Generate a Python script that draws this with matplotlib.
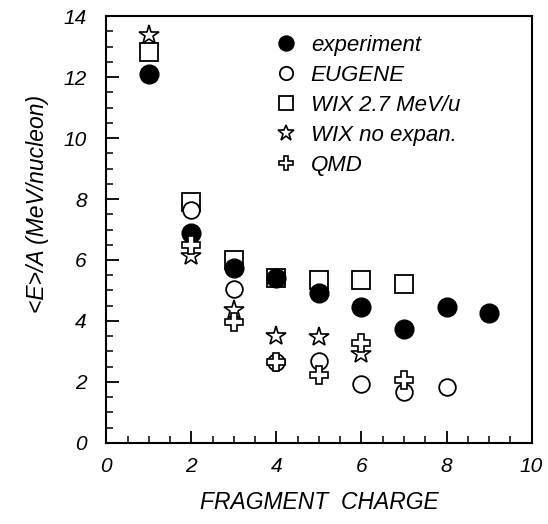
import matplotlib
matplotlib.use('Agg')
import matplotlib.pyplot as plt
from matplotlib.ticker import MultipleLocator

matplotlib.rcParams['font.family'] = ['Liberation Sans', 'DejaVu Sans']
matplotlib.rcParams['font.style'] = 'italic'

z_exp = [1, 2, 3, 4, 5, 6, 7, 8, 9]
e_exp = [12.1, 6.9, 5.75, 5.4, 4.9, 4.45, 3.72, 4.45, 4.27]

z_eug = [2, 3, 4, 5, 6, 7, 8]
e_eug = [7.63, 5.06, 2.66, 2.68, 1.92, 1.67, 1.84]

z_wix = [1, 2, 3, 4, 5, 6, 7]
e_wix = [12.82, 7.9, 5.99, 5.4, 5.33, 5.33, 5.2]

z_wixn = [1, 2, 3, 4, 5, 6]
e_wixn = [13.37, 6.12, 4.35, 3.5, 3.46, 2.93]

z_qmd = [2, 3, 4, 5, 6, 7]
e_qmd = [6.48, 3.97, 2.66, 2.22, 3.26, 2.05]

fig = plt.figure(figsize=(5.48, 5.24), dpi=100)
ax = fig.add_axes([0.194, 0.155, 0.776, 0.814])

ax.plot(z_wix, e_wix, 's', ms=13, mfc='white', mec='black', mew=1.3,
        label='WIX 2.7 MeV/u', zorder=3)
ax.plot(z_exp, e_exp, 'o', ms=13.5, mfc='black', mec='black',
        label='experiment', zorder=4)
ax.plot(z_eug, e_eug, 'o', ms=12, mfc='white', mec='black', mew=1.3,
        label='EUGENE', zorder=5)
ax.plot(z_wixn, e_wixn, '*', ms=15, mfc='white', mec='black', mew=1.2,
        label='WIX no expan.', zorder=6)
ax.plot(z_qmd, e_qmd, 'P', ms=13, mfc='white', mec='black', mew=1.2,
        label='QMD', zorder=6)

ax.set_xlim(0, 10)
ax.set_ylim(0, 14)
ax.xaxis.set_major_locator(MultipleLocator(2))
ax.xaxis.set_minor_locator(MultipleLocator(0.5))
ax.yaxis.set_major_locator(MultipleLocator(2))
ax.yaxis.set_minor_locator(MultipleLocator(0.5))
ax.tick_params(which='both', direction='in', top=False, right=False,
               labelsize=15, pad=10)
ax.tick_params(axis='y', pad=14)
ax.tick_params(which='major', length=9, width=1.3)
ax.tick_params(which='minor', length=5, width=1.1)
for s in ax.spines.values():
    s.set_linewidth(1.5)

ax.set_xlabel('FRAGMENT  CHARGE', fontsize=16.5, labelpad=11)
ax.set_ylabel('<E>/A (MeV/nucleon)', fontsize=16.5, labelpad=8)
ax.yaxis.set_label_coords(-0.135, 0.56)

h, l = ax.get_legend_handles_labels()
order = [1, 2, 0, 3, 4]
ax.legend([h[i] for i in order], [l[i] for i in order], loc='upper left',
          bbox_to_anchor=(0.345, 1.003), frameon=False, fontsize=16,
          markerscale=0.8, handletextpad=0.5, labelspacing=0.4,
          handlelength=1.2)

fig.savefig('out.png', dpi=100)
